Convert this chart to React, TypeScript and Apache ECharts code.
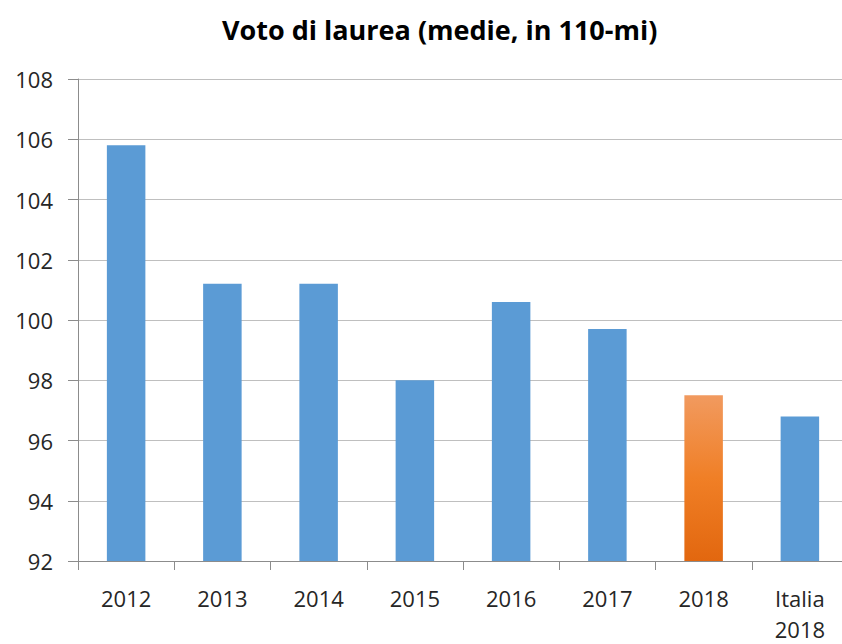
import React, { useEffect, useRef } from "react";
import * as echarts from "echarts";

const categories = ["2012", "2013", "2014", "2015", "2016", "2017", "2018", "Italia\n2018"];
const values = [105.8, 101.2, 101.2, 98.0, 100.6, 99.7, 97.5, 96.8];
const highlightIndex = 6;
const yTicks = { min: 92, max: 108, interval: 2 };
const titleText = "Voto di laurea (medie, in 110-mi)";

export default function App() {
  const ref = useRef<HTMLDivElement>(null);
  useEffect(() => {
    if (!ref.current) return;
    const chart = echarts.init(ref.current, undefined, { renderer: "svg" });
    const font = "'Open Sans', 'Liberation Sans', sans-serif";
    chart.setOption({
      animation: false,
      backgroundColor: "#ffffff",
      title: {
        text: titleText,
        left: 217,
        top: 11,
        textStyle: { fontFamily: font, fontSize: 27, fontWeight: "bold", color: "#000000" },
      },
      grid: { left: 78, right: 0, top: 79, height: 488, containLabel: false },
      xAxis: {
        type: "category",
        data: categories,
        boundaryGap: true,
        axisLine: { show: true, lineStyle: { color: "#8c8c8c", width: 1 } },
        axisTick: { show: true, length: 9, alignWithLabel: false, lineStyle: { color: "#8c8c8c" } },
        axisLabel: {
          interval: 0,
          margin: 21,
          fontFamily: font,
          fontSize: 22,
          lineHeight: 31,
          color: "#262626",
        },
      },
      yAxis: {
        type: "value",
        min: yTicks.min,
        max: yTicks.max,
        interval: yTicks.interval,
        axisLine: { show: true, lineStyle: { color: "#8c8c8c", width: 1 } },
        axisTick: { show: true, length: 10, lineStyle: { color: "#8c8c8c" } },
        axisLabel: { margin: 25, fontFamily: font, fontSize: 22, color: "#262626" },
        splitLine: { show: true, lineStyle: { color: "#bfbfbf", width: 1 } },
      },
      series: [
        {
          type: "bar",
          barWidth: "40%",
          data: values.map((v, i) =>
            i === highlightIndex
              ? {
                  value: v,
                  itemStyle: {
                    color: new echarts.graphic.LinearGradient(0, 0, 0, 1, [
                      { offset: 0, color: "#f19a5f" },
                      { offset: 0.5, color: "#f07f26" },
                      { offset: 1, color: "#e2670f" },
                    ]),
                  },
                }
              : { value: v, itemStyle: { color: "#5b9bd5" } }
          ),
        },
      ],
    });
    return () => chart.dispose();
  }, []);
  return (
    <div style={{ position: "fixed", left: 0, top: 0, width: 842, height: 644, overflow: "hidden" }}>
      <div ref={ref} style={{ width: 848, height: 644 }} />
    </div>
  );
}
